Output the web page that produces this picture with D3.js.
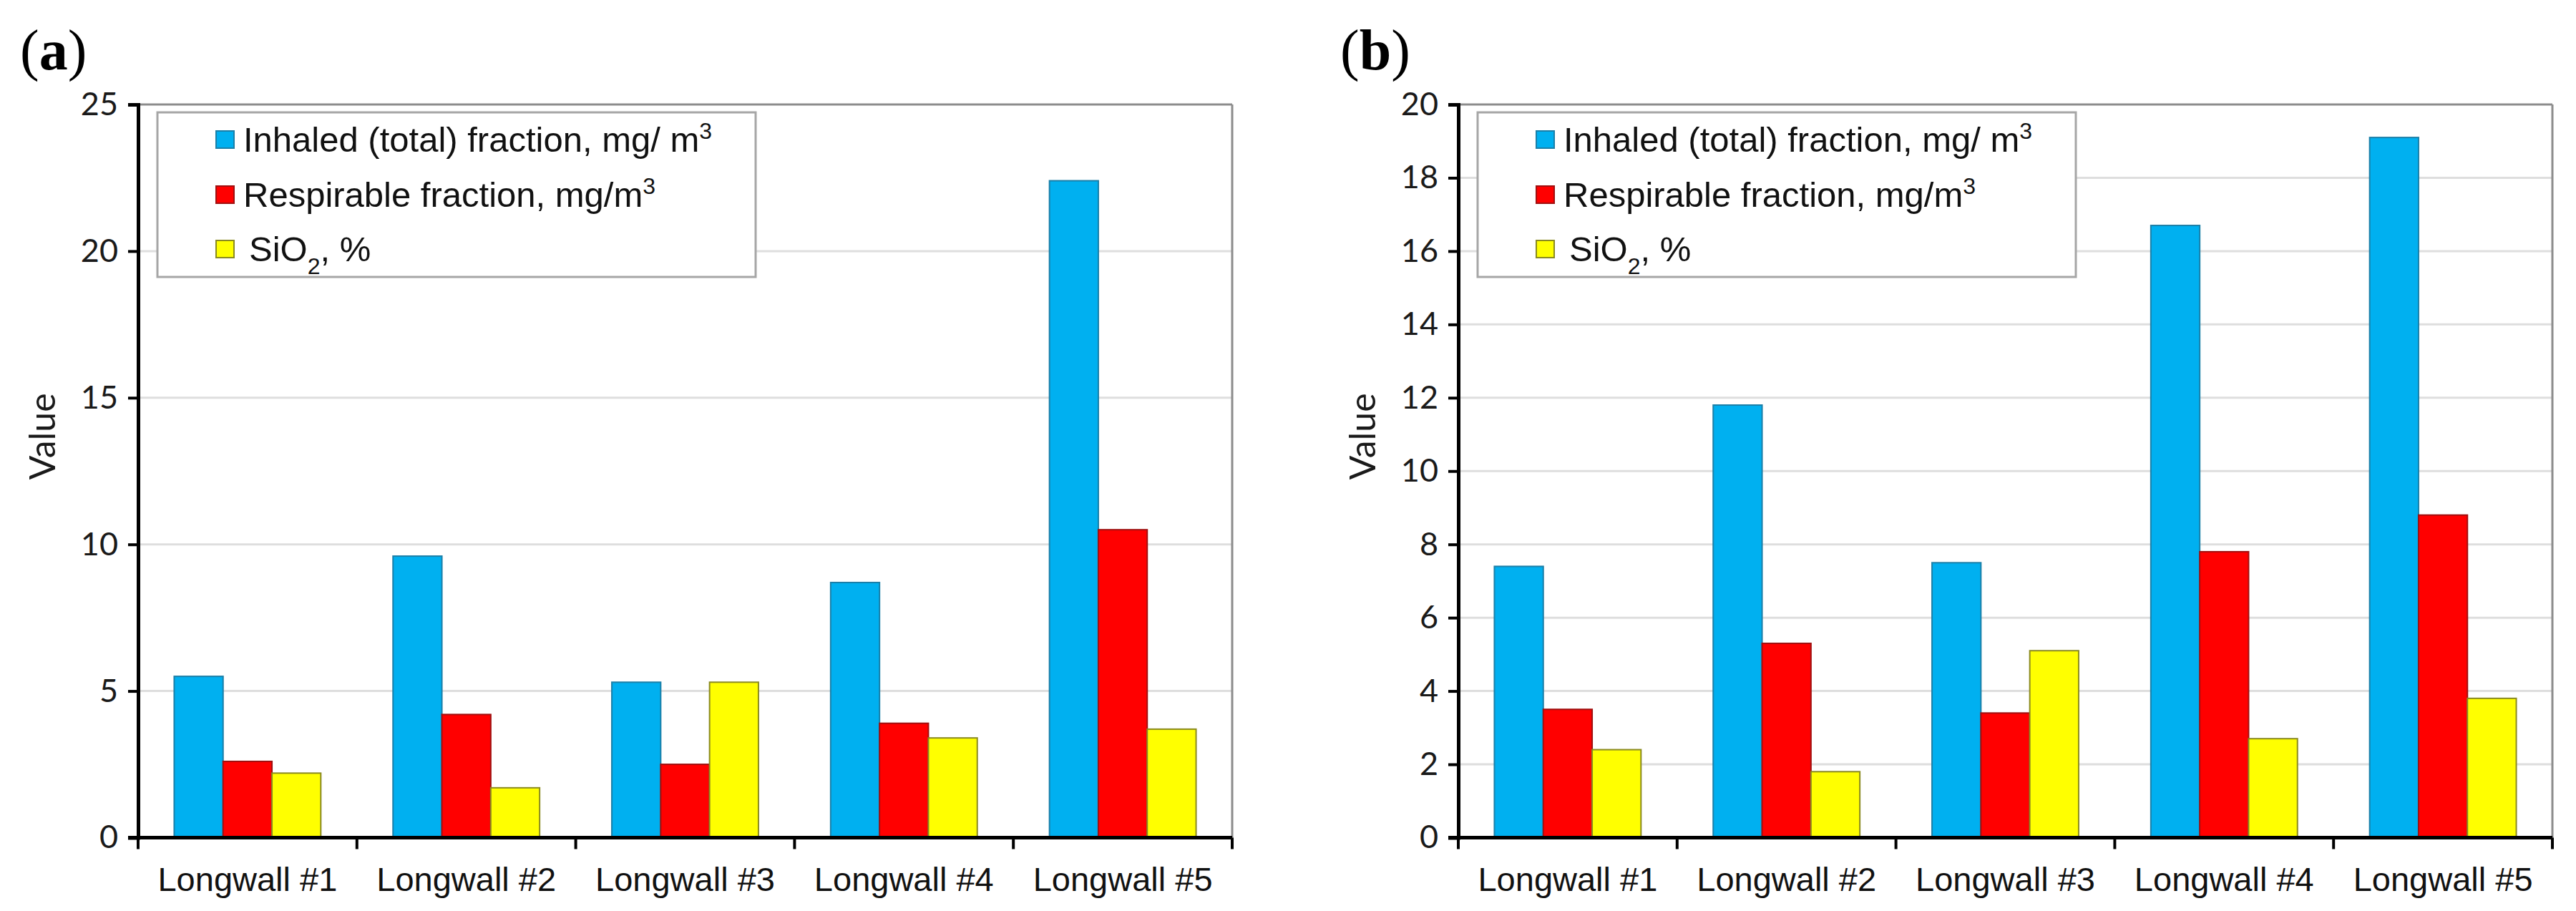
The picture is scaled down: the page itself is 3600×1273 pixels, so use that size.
<!DOCTYPE html>
<html>
<head>
<meta charset="utf-8">
<script src="https://cdn.jsdelivr.net/npm/d3@7/dist/d3.min.js"></script>
<style>
  html, body { margin: 0; padding: 0; background: #ffffff; }
  svg { display: block; }
</style>
</head>
<body>
<svg id="chart" width="3600" height="1273"></svg>
<script>
// ---------- data ----------
const categories = ["Longwall #1", "Longwall #2", "Longwall #3", "Longwall #4", "Longwall #5"];
const seriesKeys = ["inhaled", "respirable", "sio2"];
const panelLabels = ["a", "b"];

const inhaledA    = [5.5, 9.6, 5.3, 8.7, 22.4];
const respirableA = [2.6, 4.2, 2.5, 3.9, 10.5];
const sio2A       = [2.2, 1.7, 5.3, 3.4, 3.7];

const inhaledB    = [7.4, 11.8, 7.5, 16.7, 19.1];
const respirableB = [3.5, 5.3, 3.4, 7.8, 8.8];
const sio2B       = [2.4, 1.8, 5.1, 2.7, 3.8];

const yTicksA = [0, 5, 10, 15, 20, 25];
const yTicksB = [0, 2, 4, 6, 8, 10, 12, 14, 16, 18, 20];

// ---------- styles ----------
const fills   = { inhaled: "#00B0F0", respirable: "#FF0000", sio2: "#FFFF00" };
const strokes = { inhaled: "#1a7fa8", respirable: "#a01010", sio2: "#8a8a20" };

const svg = d3.select("#chart");

const panels = [
  { label: panelLabels[0], series: [inhaledA, respirableA, sio2A], ticks: yTicksA, max: 25, offset: 0 },
  { label: panelLabels[1], series: [inhaledB, respirableB, sio2B], ticks: yTicksB, max: 20, offset: 1845 }
];

const plotLeft = 193, plotRight = 1722, plotTop = 146, plotBottom = 1170.5;
const tickFont = "Lato, 'Open Sans', sans-serif";
const textFont = "'Liberation Sans', Arial, sans-serif";

panels.forEach(p => {
  const g = svg.append("g").attr("transform", `translate(${p.offset},0)`);

  const x0 = d3.scaleBand().domain(categories).range([plotLeft, plotRight])
    .paddingInner(0.33).paddingOuter(0.165);
  const x1 = d3.scaleBand().domain(seriesKeys).range([0, x0.bandwidth()]).padding(0);
  const y = d3.scaleLinear().domain([0, p.max]).range([plotBottom, plotTop]);
  const step = x0.step();

  // panel label
  g.append("text")
    .attr("x", 28).attr("y", 97)
    .attr("font-family", "'Liberation Serif', 'Times New Roman', serif")
    .attr("font-size", 80)
    .attr("fill", "#000")
    .html(`(<tspan font-weight="bold">${p.label}</tspan>)`);

  // gridlines
  g.append("g").selectAll("line")
    .data(p.ticks.filter(t => t > 0 && t < p.max))
    .join("line")
    .attr("x1", plotLeft).attr("x2", plotRight)
    .attr("y1", d => y(d)).attr("y2", d => y(d))
    .attr("stroke", "#dedede").attr("stroke-width", 3);

  // top & right frame
  g.append("line").attr("x1", plotLeft).attr("x2", plotRight)
    .attr("y1", y(p.max)).attr("y2", y(p.max))
    .attr("stroke", "#8c8c8c").attr("stroke-width", 3);
  g.append("line").attr("x1", plotRight).attr("x2", plotRight)
    .attr("y1", y(p.max)).attr("y2", y(0))
    .attr("stroke", "#8c8c8c").attr("stroke-width", 3);

  // bars
  const rows = categories.map((c, i) => ({ cat: c, vals: seriesKeys.map((k, j) => ({ key: k, v: p.series[j][i] })) }));
  const groups = g.append("g").selectAll("g").data(rows).join("g")
    .attr("transform", d => `translate(${x0(d.cat)},0)`);
  groups.selectAll("rect").data(d => d.vals).join("rect")
    .attr("x", d => x1(d.key))
    .attr("y", d => y(d.v))
    .attr("width", x1.bandwidth())
    .attr("height", d => y(0) - y(d.v))
    .attr("fill", d => fills[d.key])
    .attr("stroke", d => strokes[d.key])
    .attr("stroke-width", 2);

  // y axis
  const yAxis = d3.axisLeft(y).tickValues(p.ticks).tickSize(14).tickPadding(14).tickFormat(d3.format("d"));
  const ya = g.append("g").attr("transform", `translate(${plotLeft},0)`).call(yAxis);
  ya.select(".domain").attr("stroke", "#000").attr("stroke-width", 5);
  ya.selectAll(".tick line").attr("stroke", "#000").attr("stroke-width", 4);
  ya.selectAll(".tick text").attr("font-family", tickFont).attr("font-size", 45).attr("fill", "#1a1a1a");

  // x axis (category boundaries as ticks)
  g.append("line").attr("x1", plotLeft - 14).attr("x2", plotRight)
    .attr("y1", y(0)).attr("y2", y(0))
    .attr("stroke", "#000").attr("stroke-width", 5);
  const bounds = categories.map(c => x0(c) - step * 0.165).concat([plotRight]);
  g.append("g").selectAll("line").data(bounds).join("line")
    .attr("x1", d => d).attr("x2", d => d)
    .attr("y1", y(0)).attr("y2", y(0) + 16)
    .attr("stroke", "#000").attr("stroke-width", 4);
  g.append("g").selectAll("text").data(categories).join("text")
    .attr("x", d => x0(d) + x0.bandwidth() / 2)
    .attr("y", 1245)
    .attr("text-anchor", "middle")
    .attr("font-family", textFont).attr("font-size", 47).attr("fill", "#111")
    .text(d => d);

  // y label
  g.append("text")
    .attr("transform", `translate(77,610) rotate(-90)`)
    .attr("text-anchor", "middle")
    .attr("font-family", tickFont).attr("font-size", 50).attr("fill", "#1a1a1a")
    .text("Value");

  // legend
  const lg = g.append("g");
  lg.append("rect").attr("x", 220).attr("y", 157).attr("width", 836).attr("height", 230)
    .attr("fill", "#fff").attr("stroke", "#a6a6a6").attr("stroke-width", 3);
  const legendItems = [
    { key: "inhaled", html: 'Inhaled (total) fraction, mg/ m<tspan baseline-shift="super" font-size="32">3</tspan>', dx: 0 },
    { key: "respirable", html: 'Respirable fraction, mg/m<tspan baseline-shift="super" font-size="32">3</tspan>', dx: 0 },
    { key: "sio2", html: 'SiO<tspan baseline-shift="sub" font-size="32">2</tspan>, %', dx: 8 }
  ];
  const rowsY = [195, 272, 348];
  legendItems.forEach((it, i) => {
    lg.append("rect").attr("x", 302).attr("y", rowsY[i] - 12).attr("width", 25).attr("height", 24)
      .attr("fill", fills[it.key]).attr("stroke", strokes[it.key]).attr("stroke-width", 2);
    lg.append("text").attr("x", 340 + it.dx).attr("y", rowsY[i] + 17)
      .attr("font-family", textFont).attr("font-size", 49).attr("fill", "#111")
      .html(it.html);
  });
});
</script>
</body>
</html>
